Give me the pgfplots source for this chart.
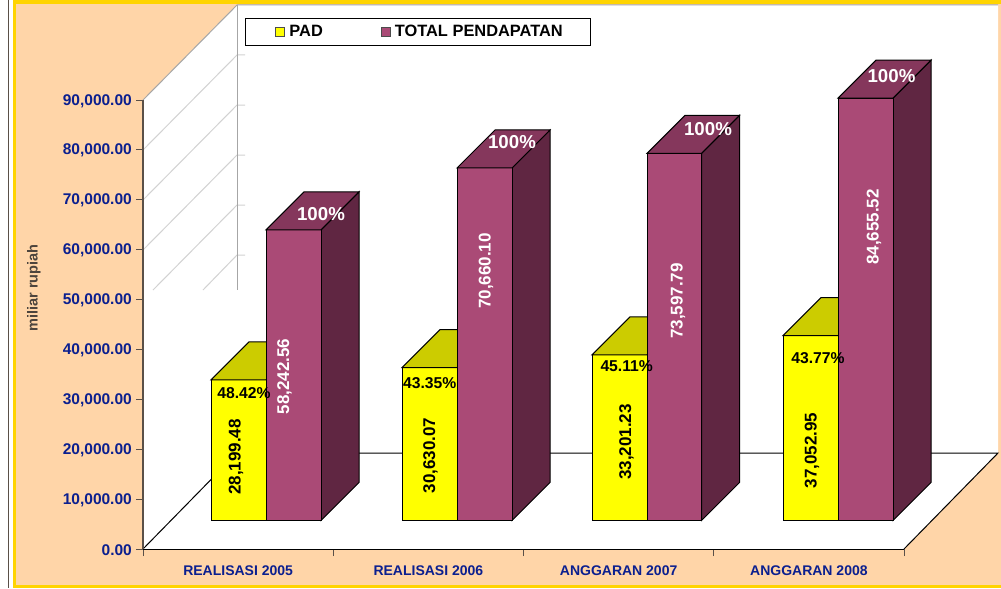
\documentclass[border=0pt]{standalone}
\usepackage{fontspec}
\setmainfont{Liberation Sans}
\usepackage{pgfplots}
\pgfplotsset{compat=1.18}
\definecolor{peach}{HTML}{FFD5A8}
\definecolor{gold}{HTML}{FFD400}
\definecolor{labelblue}{HTML}{0B1F8F}
\definecolor{axisgrey}{HTML}{5A5048}
\definecolor{gridgrey}{HTML}{D2D2D2}
\definecolor{padfront}{HTML}{FFFF00}
\definecolor{padtop}{HTML}{CCCC00}
\definecolor{totfront}{HTML}{AA4A76}
\definecolor{tottop}{HTML}{85375C}
\definecolor{totside}{HTML}{602642}
\newcommand{\fs}[1]{\fontsize{#1bp}{#1bp}\selectfont\bfseries}
% bar front faces start 5713 above the axis, the depth adds another 7617
% args: x left, x right, back x left, back x right, front top, back top, front, top colour
\newcommand{\cuboid}[8]{%
  \addplot[forget plot,fill=#7,draw=black,line width=1bp] coordinates {(#1,5713) (#2,5713) (#2,#5) (#1,#5)} --cycle;
  \addplot[forget plot,fill=#8,draw=black,line width=1bp] coordinates {(#1,#5) (#2,#5) (#4,#6) (#3,#6)} --cycle;
}
\newcommand{\cuboidside}[5]{%
  \addplot[forget plot,fill=#5,draw=black,line width=1bp] coordinates {(#1,5713) (#2,13330) (#2,#4) (#1,#3)} --cycle;
}
\newcommand{\vlabel}[4]{\node[rotate=90,inner sep=0pt,text=#4,font=\fs{17}] at (axis cs:#1,#2) {#3};}
\newcommand{\plabel}[3]{\node[inner sep=0pt,font=\fs{15.7}] at (axis cs:#1,#2) {#3};}
\newcommand{\hlabel}[3]{\node[inner sep=0pt,text=white,font=\fs{18.7}] at (axis cs:#1,#2) {#3};}
\begin{document}
\begin{tikzpicture}
% background, in pixel coordinates
\begin{axis}[at={(0,0)},anchor=south west,scale only axis,width=1001bp,height=588bp,
  xmin=0,xmax=1001,ymin=0,ymax=588,y dir=reverse,hide axis]
\addplot[fill=white,draw=none] coordinates {(0,0) (1001,0) (1001,588) (0,588)} --cycle;
\addplot[draw=axisgrey,line width=1.5bp] coordinates {(8.7,0) (8.7,588)};
\addplot[fill=gold,draw=none] coordinates {(13,0) (1001,0) (1001,588) (13,588)} --cycle;
\addplot[fill=peach,draw=none] coordinates {(16,4) (1001,4) (1001,585) (16,585)} --cycle;
\addplot[fill=white,draw=none] coordinates {(143,100) (237,5) (998,5) (998,453) (904,549) (143,549)} --cycle;
% side wall grid, cut off at y=290
\addplot[draw=gridgrey,line width=1bp] coordinates {(143,150) (237,55) (245,55)};
\addplot[draw=gridgrey,line width=1bp] coordinates {(143,200) (237,105) (245,105)};
\addplot[draw=gridgrey,line width=1bp] coordinates {(143,250) (237,155) (245,155)};
\addplot[draw=gridgrey,line width=1bp] coordinates {(153,290) (237,205) (245,205)};
\addplot[draw=gridgrey,line width=1bp] coordinates {(203,290) (237,255) (245,255)};
\addplot[draw=gray!70,line width=1bp] coordinates {(143,100) (237,5) (998,5)};
\addplot[draw=gray!70,line width=1bp] coordinates {(237,5) (237,290)};
\addplot[draw=black,line width=1bp] coordinates {(143,549) (237,453) (998,453) (904,549)};
\end{axis}
% the chart itself
\begin{axis}[at={(143bp,39bp)},anchor=south west,scale only axis,width=761bp,height=449bp,
  xmin=143,xmax=904,ymin=0,ymax=90000,clip=false,
  axis x line*=bottom,axis y line*=left,
  x axis line style={draw=black,line width=1bp,-},
  y axis line style={draw=axisgrey,line width=1.2bp,-},
  tick style={draw=axisgrey,line width=1bp},
  tick align=outside,major tick length=7bp,
  ytick={0,10000,...,90000},
  scaled y ticks=false,
  xtick={143,333.25,523.5,713.75,904},
  xticklabels={REALISASI 2005,REALISASI 2006,ANGGARAN 2007,ANGGARAN 2008},
  x tick label as interval,
  every x tick/.style={draw=axisgrey,line width=1bp},
  /pgf/number format/fixed,
  /pgf/number format/fixed zerofill,
  /pgf/number format/precision=2,
  /pgf/number format/1000 sep={,},
  /pgf/number format/assume math mode=true,
  y tick label style={text=labelblue,font=\fs{15.5},inner sep=0pt,xshift=-4bp,yshift=-0.8bp},
  x tick label style={text=labelblue,font=\fs{14},inner sep=0pt,yshift=-9.5bp},
  every axis y label/.style={at={(axis description cs:-0.1433,0.581)},rotate=90,anchor=center,font=\fs{14.5},text=axisgrey!85!black},
  ylabel={miliar rupiah},
  legend style={draw=black,line width=1bp,fill=white,at={(0.134,1.1826)},anchor=north west,legend columns=2,
    font=\fs{16.4},inner xsep=0pt,inner ysep=5bp,
    /tikz/column 2/.style={column sep=26bp}},
  legend image code/.code={\path (-30bp,0) (11bp,0);\draw[#1,draw=black!70,line width=1bp] (0bp,-4.5bp) rectangle (9bp,4.5bp);},
]
\addlegendimage{fill=padfront}
\addlegendentry{PAD}
\addlegendimage{fill=totfront}
\addlegendentry{TOTAL PENDAPATAN\hspace*{26bp}}
% REALISASI 2005: 28,199.48 and 58,242.56
\cuboid{211}{266}{249}{304}{33912.48}{41529.48}{padfront}{padtop}
\cuboidside{321}{359}{63955.56}{71572.56}{totside}
\cuboid{266}{321}{304}{359}{63955.56}{71572.56}{totfront}{tottop}
% REALISASI 2006: 30,630.07 and 70,660.10
\cuboid{402}{457}{440}{495}{36343.07}{43960.07}{padfront}{padtop}
\cuboidside{512}{550}{76373.10}{83990.10}{totside}
\cuboid{457}{512}{495}{550}{76373.10}{83990.10}{totfront}{tottop}
% ANGGARAN 2007: 33,201.23 and 73,597.79
\cuboid{592}{647}{630}{685}{38914.23}{46531.23}{padfront}{padtop}
\cuboidside{701.5}{739.5}{79310.79}{86927.79}{totside}
\cuboid{647}{701.5}{685}{739.5}{79310.79}{86927.79}{totfront}{tottop}
% ANGGARAN 2008: 37,052.95 and 84,655.52
\cuboid{783}{838}{821}{876}{42765.95}{50382.95}{padfront}{padtop}
\cuboidside{893}{931}{90368.52}{97985.52}{totside}
\cuboid{838}{893}{876}{931}{90368.52}{97985.52}{totfront}{tottop}
\end{axis}
% value labels on top of the bars, in pixel coordinates
\begin{axis}[at={(0,0)},anchor=south west,scale only axis,width=1001bp,height=588bp,
  xmin=0,xmax=1001,ymin=0,ymax=588,y dir=reverse,hide axis,clip=false]
\vlabel{236}{457}{28,199.48}{black}
\vlabel{430.5}{455.5}{30,630.07}{black}
\vlabel{626.5}{442}{33,201.23}{black}
\vlabel{812}{450.5}{37,052.95}{black}
\vlabel{284.5}{376.5}{58,242.56}{white}
\vlabel{486}{271}{70,660.10}{white}
\vlabel{678}{301}{73,597.79}{white}
\vlabel{874}{227}{84,655.52}{white}
\plabel{244}{393}{48.42\%}
\plabel{429.7}{382.7}{43.35\%}
\plabel{626.7}{365.7}{45.11\%}
\plabel{818}{358}{43.77\%}
\hlabel{321}{214}{100\%}
\hlabel{512}{142}{100\%}
\hlabel{708}{129.3}{100\%}
\hlabel{891.5}{76}{100\%}
\end{axis}
\end{tikzpicture}
\end{document}
